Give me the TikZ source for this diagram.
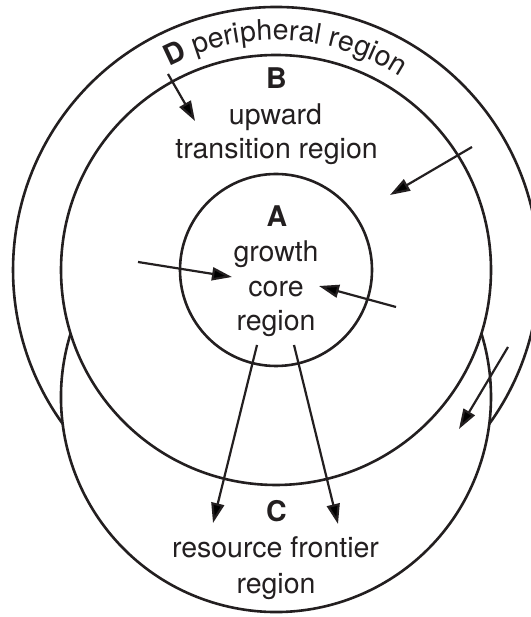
\documentclass[tikz,border=0pt]{standalone}
\usepackage{fontspec}
\setmainfont{TeX Gyre Heros}
\usetikzlibrary{arrows.meta,decorations.text}
\definecolor{ink}{HTML}{231F20}
\newcommand{\bigfont}{\fontsize{28.5}{34}\selectfont}
\begin{document}
\begin{tikzpicture}[x=1pt,y=1pt,
  ring/.style={draw=ink, line width=2.6pt},
  flow/.style={draw=ink, line width=2.2pt, -{Triangle[length=20pt,width=13pt]}},
  lbl/.style={font=\bigfont, text=ink, inner sep=0pt, anchor=base},
  key/.style={font=\bigfont\bfseries, text=ink, inner sep=0pt, anchor=base}]
\useasboundingbox (0,0) rectangle (530,617);
\coordinate (O) at (276,347);
\coordinate (Oc) at (276,220);
% regions
\node[circle, ring, minimum size=192pt, inner sep=0pt, outer sep=0pt] (A) at (O) {};
\node[circle, ring, minimum size=430pt, inner sep=0pt, outer sep=0pt] (B) at (O) {};
\draw[ring] (Oc) ++(162.82:215) arc[start angle=162.82, end angle=377.18, radius=215];
\draw[ring] (O) ++(-35.8:263) arc[start angle=-35.8, end angle=215.8, radius=263];
% curved label of D
\path[decorate, decoration={text along path, text align=center, text color=ink,
  text={|\bigfont\bfseries|D|\bigfont\mdseries| peripheral region}}]
  (O) ++(130:230) arc[start angle=130, end angle=45, radius=230];
% labels
\node[key] (tB) at (276.5,528) {B};
\node[lbl] (tB1) at (275.5,492) {upward};
\node[lbl] (tB2) at (276.5,458) {transition region};
\node[key] (tA) at (277,390) {A};
\node[lbl] (tA1) at (276,355) {growth};
\node[lbl] (tA2) at (276,320) {core};
\node[lbl] (tA3) at (276,286) {region};
\node[key] (tC) at (276.5,95) {C};
\node[lbl] (tC1) at (275.5,59) {resource frontier};
\node[lbl] (tC2) at (276,23) {region};
% arrow ends
\coordinate (p1) at (168,543); \coordinate (q1) at (195,496);
\coordinate (p2) at (472,470); \coordinate (q2) at (390,422);
\coordinate (p3) at (138,355); \coordinate (q3) at (232,340);
\coordinate (p4) at (396,310); \coordinate (q4) at (319,331);
\coordinate (p5) at (508,270); \coordinate (q5) at (459,188);
\coordinate (p6) at (257,272); \coordinate (q6) at (213,94);
\coordinate (p7) at (294,272); \coordinate (q7) at (338,93);
\draw[flow] (p1) -- (q1);
\draw[flow] (p2) -- (q2);
\draw[flow] (p3) -- (q3);
\draw[flow] (p4) -- (q4);
\draw[flow] (p5) -- (q5);
\draw[flow] (p6) -- (q6);
\draw[flow] (p7) -- (q7);
\end{tikzpicture}
\end{document}
